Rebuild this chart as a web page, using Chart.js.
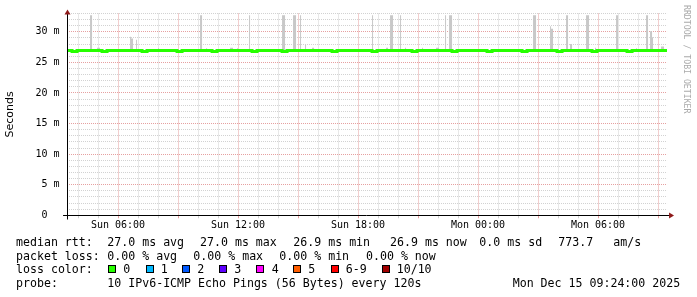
<!DOCTYPE html>
<html><head><meta charset="utf-8">
<script src="https://cdn.jsdelivr.net/npm/chart.js@4/dist/chart.umd.min.js"></script>
<style>
html,body{margin:0;padding:0;background:#fff;}
body{width:697px;height:297px;position:relative;overflow:hidden;font-family:"DejaVu Sans Mono",monospace;}
#wrap{position:absolute;left:0;top:0;width:697px;height:240px;}
.t{position:absolute;font-size:11.6px;line-height:14px;white-space:pre;color:#000;}
.box{position:absolute;width:6px;height:6px;border:1px solid #000;top:265px;}
#wm{position:absolute;left:683px;top:5px;writing-mode:vertical-rl;font-size:8.2px;line-height:8px;color:#aaaaaa;white-space:pre;}
</style></head>
<body>
<div id="wrap"><canvas id="c" width="697" height="240"></canvas></div>
<div id="wm">RRDTOOL / TOBI OETIKER</div>

<div class="t" style="left:16px;top:235px">median rtt:</div>
<div class="t" style="left:107.3px;top:235px">27.0 ms avg</div>
<div class="t" style="left:200px;top:235px">27.0 ms max</div>
<div class="t" style="left:293.3px;top:235px">26.9 ms min</div>
<div class="t" style="left:390px;top:235px">26.9 ms now</div>
<div class="t" style="left:479.3px;top:235px">0.0 ms sd</div>
<div class="t" style="left:558.3px;top:235px">773.7</div>
<div class="t" style="left:613.3px;top:235px">am/s</div>

<div class="t" style="left:16px;top:248.7px">packet loss:</div>
<div class="t" style="left:107.3px;top:248.7px">0.00 % avg</div>
<div class="t" style="left:193.3px;top:248.7px">0.00 % max</div>
<div class="t" style="left:279.3px;top:248.7px">0.00 % min</div>
<div class="t" style="left:366px;top:248.7px">0.00 % now</div>

<div class="t" style="left:16px;top:262.4px">loss color:</div>
<div class="box" style="left:108px;background:#26ff00"></div><div class="t" style="left:123.3px;top:262.4px">0</div>
<div class="box" style="left:145.7px;background:#00b8ff"></div><div class="t" style="left:160.7px;top:262.4px">1</div>
<div class="box" style="left:182.3px;background:#0059ff"></div><div class="t" style="left:197.3px;top:262.4px">2</div>
<div class="box" style="left:219.3px;background:#5e00ff"></div><div class="t" style="left:234.3px;top:262.4px">3</div>
<div class="box" style="left:256.3px;background:#ff00ff"></div><div class="t" style="left:271.7px;top:262.4px">4</div>
<div class="box" style="left:293.3px;background:#ff5e00"></div><div class="t" style="left:308.3px;top:262.4px">5</div>
<div class="box" style="left:330.7px;background:#ff0000"></div><div class="t" style="left:345.7px;top:262.4px">6-9</div>
<div class="box" style="left:381.7px;background:#a10000"></div><div class="t" style="left:396.7px;top:262.4px">10/10</div>

<div class="t" style="left:16px;top:276px">probe:</div>
<div class="t" style="left:107.3px;top:276px">10 IPv6-ICMP Echo Pings (56 Bytes) every 120s</div>
<div class="t" style="left:512.7px;top:276px">Mon Dec 15 09:24:00 2025</div>

<script>
// time axis: minutes since Sun 00:00 (Sun Dec 14)
const startMin = 207;   // Sun 03:27
const endMin = 2007;    // Mon 09:27
const stepMin = 15;
const dayNames = ['Sun', 'Mon'];
const hourTicks = [240,300,360,420,480,540,600,660,720,780,840,900,960,1020,1080,1140,1200,1260,1320,1380,1440,1500,1560,1620,1680,1740,1800,1860,1920,1980];
const yTicks = [0,1,2,3,4,5,6,7,8,9,10,11,12,13,14,15,16,17,18,19,20,21,22,23,24,25,26,27,28,29,30,31,32,33];

// median rtt (ms), one value every 15 minutes
const medianRtt = [
 26.93,26.78,26.93,26.93,26.93,26.93,26.93,26.78,26.93,26.93,
 26.93,26.93,26.93,26.93,26.93,26.78,26.93,26.93,26.93,26.93,
 26.93,26.93,26.78,26.93,26.93,26.93,26.93,26.93,26.93,26.78,
 26.93,26.93,26.93,26.93,26.93,26.93,26.93,26.78,26.93,26.93,
 26.93,26.93,26.93,26.78,26.93,26.93,26.93,26.93,26.93,26.93,
 26.93,26.93,26.93,26.78,26.93,26.93,26.93,26.93,26.93,26.93,
 26.93,26.78,26.93,26.93,26.93,26.93,26.93,26.93,26.93,26.78,
 26.93,26.93,26.93,26.93,26.93,26.93,26.93,26.78,26.93,26.93,
 26.93,26.93,26.93,26.93,26.78,26.93,26.93,26.93,26.93,26.93,
 26.93,26.78,26.93,26.93,26.93,26.93,26.93,26.93,26.78,26.93,
 26.93,26.93,26.93,26.93,26.93,26.78,26.93,26.93,26.93,26.93,
 26.93,26.93,26.78,26.93,26.93,26.93,26.93,26.93,26.93,26.93,
 26.93];

// smoke (spread of pings): start minute, duration minutes, top value (ms)
const smokeBase = 26.95;
const smokeStart = [276,297,396,399,414,480,606,624,696,717,753,852,885,906,921,942,1122,1164,1176,1206,1221,1272,1314,1341,1353,1605,1656,1659,1704,1716,1764,1791,1854,1914,1944,1956,1962,1989];
const smokeDur   = [6,9,3,6,3,3,6,3,9,3,3,9,9,3,3,6,3,6,9,3,3,3,9,3,9,9,3,6,6,6,9,3,6,3,6,6,3,9];
const smokeTop   = [32.7,27.4,29.2,28.9,28.7,27.3,32.7,27.3,27.4,27.3,32.7,32.7,32.7,32.7,27.9,27.4,32.7,27.4,32.7,32.7,27.4,27.4,27.4,32.7,32.7,32.7,30.9,30.5,32.7,28.0,32.7,27.4,32.7,27.3,32.7,30.1,29.1,27.6];

const medianPts = medianRtt.map((v, i) => ({x: startMin + i * stepMin, y: v}));
const smokePts = [{x: startMin, y: smokeBase}];
smokeStart.forEach((s, i) => {
  smokePts.push({x: s, y: smokeTop[i]});
  smokePts.push({x: s + smokeDur[i], y: smokeBase});
});
smokePts.push({x: endMin, y: smokeBase});

const MAJOR = '#e6a0a0', MINOR = '#d2d2d2';

const axisPlugin = {
  id: 'rrdAxes',
  afterDatasetsDraw(chart) {
    const {ctx, chartArea: a} = chart;
    const ax = Math.floor(a.left) + 0.5;
    const ay = Math.floor(a.bottom) + 0.5;
    ctx.save();
    ctx.strokeStyle = '#000';
    ctx.lineWidth = 1;
    ctx.beginPath();
    ctx.moveTo(a.left - 4, ay); ctx.lineTo(a.right + 3, ay);
    ctx.moveTo(ax, ay + 4); ctx.lineTo(ax, a.top);
    ctx.stroke();
    ctx.fillStyle = '#8e1a1a';
    ctx.beginPath();
    ctx.moveTo(ax - 3, a.top + 1); ctx.lineTo(ax + 3, a.top + 1); ctx.lineTo(ax, a.top - 4); ctx.closePath();
    ctx.fill();
    ctx.beginPath();
    ctx.moveTo(a.right + 2, ay - 3); ctx.lineTo(a.right + 2, ay + 3); ctx.lineTo(a.right + 7, ay); ctx.closePath();
    ctx.fill();
    ctx.restore();
  }
};

new Chart(document.getElementById('c'), {
  type: 'line',
  data: {
    datasets: [
      {label: 'median rtt', data: medianPts, borderColor: '#26ff00', backgroundColor: '#26ff00',
       borderWidth: 3, stepped: true, pointRadius: 0, fill: false, borderCapStyle: 'butt'},
      {label: 'smoke', data: smokePts, borderColor: 'rgba(0,0,0,0)', backgroundColor: '#c8c8c8',
       borderWidth: 0, stepped: true, pointRadius: 0, fill: {value: smokeBase}}
    ]
  },
  options: {
    responsive: false, animation: false, events: [],
    layout: {padding: {left: 0, right: 29.95, top: 12, bottom: 4.7}},
    plugins: {legend: {display: false}, tooltip: {enabled: false}},
    scales: {
      x: {
        type: 'linear', min: startMin, max: endMin,
        afterBuildTicks: s => { s.ticks = hourTicks.map(v => ({value: v})); },
        afterFit: s => { s.height = 20; },
        border: {display: false, dash: [1, 1]},
        grid: {
          color: c => (c.tick && c.tick.value % 180 === 0) ? MAJOR : MINOR,
          drawTicks: true, tickLength: 3
        },
        ticks: {
          autoSkip: false, maxRotation: 0, minRotation: 0, padding: 1.5, color: '#000',
          font: {family: '"DejaVu Sans Mono", monospace', size: 10},
          callback: v => {
            if (v % 360 !== 0) return '';
            const d = dayNames[Math.floor(v / 1440)];
            const h = Math.floor((v % 1440) / 60);
            return d + ' ' + String(h).padStart(2, '0') + ':00';
          }
        }
      },
      y: {
        min: 0, max: 33,
        afterBuildTicks: s => { s.ticks = yTicks.map(v => ({value: v})); },
        afterFit: s => { s.width = 67.05; },
        border: {display: false, dash: [1, 1]},
        grid: {
          color: c => (c.tick && c.tick.value % 5 === 0) ? MAJOR : MINOR,
          drawTicks: false
        },
        title: {display: true, text: 'Seconds', color: '#000', padding: {top: 4, bottom: 0},
                font: {family: '"DejaVu Sans", sans-serif', size: 11}},
        ticks: {
          autoSkip: false, padding: 7.5, color: '#000',
          font: {family: '"DejaVu Sans Mono", monospace', size: 10},
          callback: v => v % 5 !== 0 ? '' : (v === 0 ? '0  ' : v + ' m')
        }
      }
    }
  },
  plugins: [axisPlugin]
});
</script>
</body></html>
